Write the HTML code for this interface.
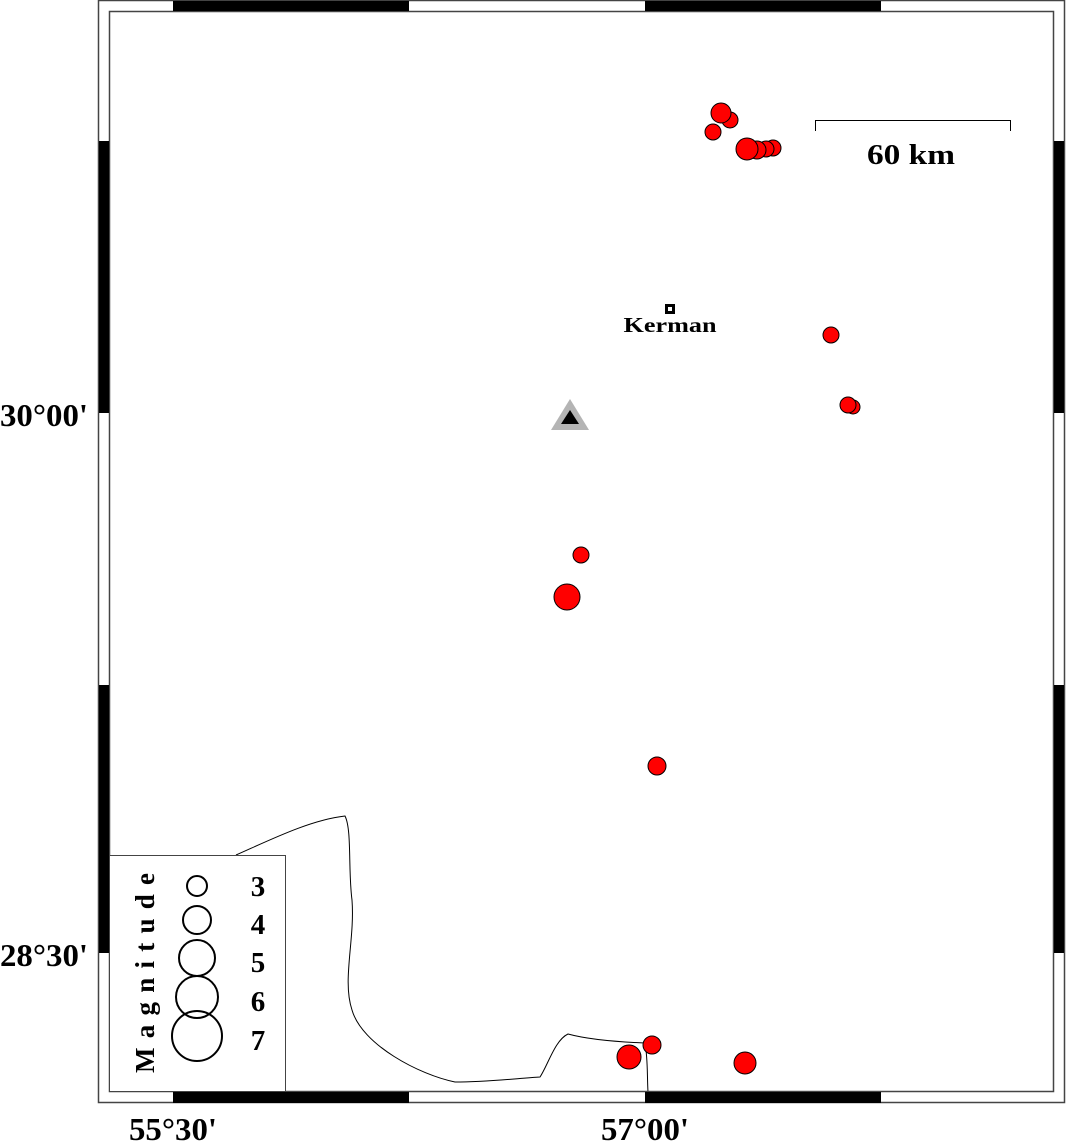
<!DOCTYPE html>
<html><head><meta charset="utf-8"><style>html,body{margin:0;padding:0;background:#fff}svg{display:block}</style></head><body>
<svg width="1066" height="1141" viewBox="0 0 1066 1141" xmlns="http://www.w3.org/2000/svg" font-family="Liberation Serif, serif" font-weight="bold">
<rect width="1066" height="1141" fill="#fff"/>
<path d="M236,855 C270,840 310,820 345,816 C352,830 348,870 352,900 C355,940 342,980 352,1010 C362,1045 420,1075 455,1082 C490,1082 520,1078 540,1077 C548,1065 555,1040 568,1034 C590,1040 620,1042 645,1043 C648,1060 647,1075 648,1092" fill="none" stroke="#000" stroke-width="1"/>
<rect x="98.5" y="0.5" width="966" height="1102" fill="none" stroke="#444" stroke-width="1.5"/>
<rect x="109.5" y="11.5" width="944" height="1080" fill="none" stroke="#444" stroke-width="1.5"/>
<g fill="#000">
<rect x="173" y="1" width="236" height="10"/><rect x="645" y="1" width="236" height="10"/>
<rect x="173" y="1092" width="236" height="11"/><rect x="645" y="1092" width="236" height="11"/>
<rect x="99" y="141" width="10" height="272"/><rect x="99" y="685" width="10" height="268"/>
<rect x="1054" y="141" width="10" height="272"/><rect x="1054" y="685" width="10" height="268"/>
</g>
<rect x="109.5" y="855.5" width="176" height="236" fill="#fff" stroke="#444" stroke-width="1"/>
<g fill="none" stroke="#000" stroke-width="2">
<circle cx="197" cy="886" r="10"/><circle cx="197" cy="920" r="14"/><circle cx="197" cy="958" r="18"/><circle cx="197" cy="997" r="21"/><circle cx="197" cy="1036" r="25"/>
</g>
<g font-size="29" text-anchor="middle">
<text x="258" y="896">3</text><text x="258" y="934">4</text><text x="258" y="972">5</text><text x="258" y="1011">6</text><text x="258" y="1050">7</text>
</g>
<text transform="translate(154,1073) rotate(-90)" font-size="27" textLength="200" lengthAdjust="spacing">Magnitude</text>
<text x="0" y="426" font-size="32" textLength="88" lengthAdjust="spacingAndGlyphs">30°00'</text>
<text x="0" y="966" font-size="32" textLength="88" lengthAdjust="spacingAndGlyphs">28°30'</text>
<text x="129" y="1140" font-size="32" textLength="88" lengthAdjust="spacingAndGlyphs">55°30'</text>
<text x="601" y="1140" font-size="32" textLength="88" lengthAdjust="spacingAndGlyphs">57°00'</text>
<path d="M815.5,131 V120.5 H1010.5 V131" fill="none" stroke="#000" stroke-width="1"/>
<text x="911" y="164" font-size="29" text-anchor="middle" textLength="88" lengthAdjust="spacingAndGlyphs">60 km</text>
<rect x="665" y="304" width="10" height="10" fill="#000"/><rect x="668" y="307" width="4" height="4" fill="#fff"/>
<text x="670" y="332" font-size="21" text-anchor="middle" textLength="93" lengthAdjust="spacingAndGlyphs">Kerman</text>
<polygon points="570,399 551,430 589,430" fill="#b4b4b4"/>
<polygon points="570,410 561,424 579,424" fill="#000"/>
<g fill="#ff0000" stroke="#000" stroke-width="1">
<circle cx="730" cy="120" r="8"/><circle cx="721" cy="113" r="10"/><circle cx="713" cy="132" r="8"/>
<circle cx="773" cy="148" r="8"/><circle cx="766" cy="149" r="8"/><circle cx="757" cy="150" r="9"/><circle cx="747" cy="149" r="11"/>
<circle cx="831" cy="335" r="8"/><circle cx="853" cy="407" r="7"/><circle cx="848" cy="405" r="8"/>
<circle cx="581" cy="555" r="8"/><circle cx="567" cy="597" r="13"/><circle cx="657" cy="766" r="9"/>
<circle cx="629" cy="1057" r="12"/><circle cx="652" cy="1045" r="9"/><circle cx="745" cy="1063" r="11"/>
</g>
</svg>
</body></html>
